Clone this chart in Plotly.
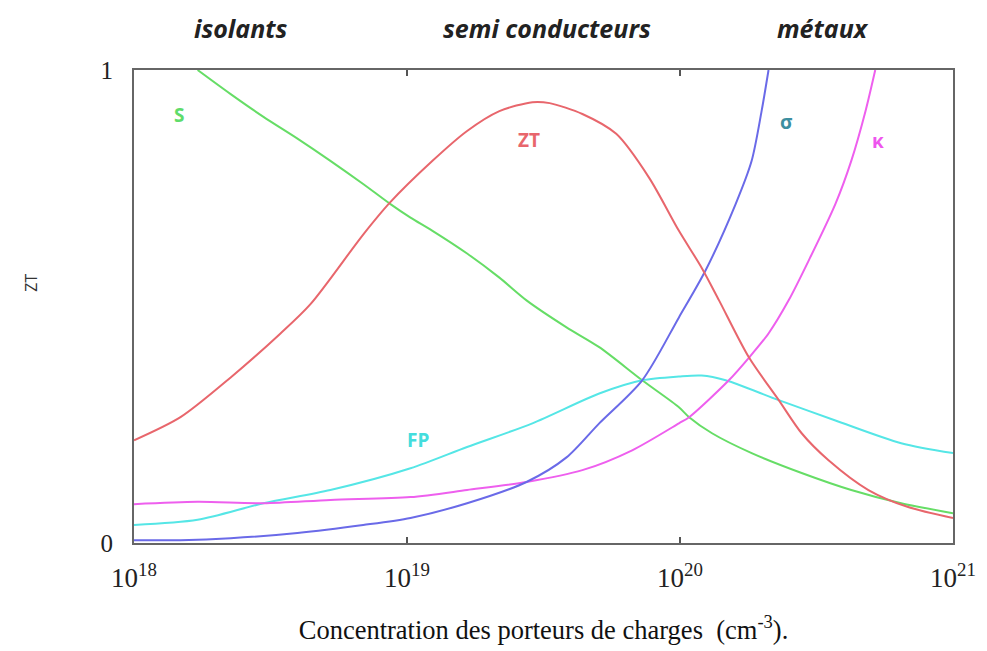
import math
import plotly.graph_objects as go

# ---- data ----
zt_x = [1.0e18, 1.48e18, 2.26e18, 3.44e18, 4.43e18, 6.91e18, 8.67e18, 1.24e19, 1.66e19,
        2.18e19, 2.88e19, 3.33e19, 4.39e19, 5.84e19, 7.71e19, 9.91e19, 1.20e20, 1.39e20,
        1.79e20, 2.30e20, 2.79e20, 3.50e20, 4.90e20, 6.85e20, 1.0e21]
zt_y = [0.217, 0.266, 0.35, 0.443, 0.505, 0.652, 0.72, 0.808, 0.871,
        0.913, 0.932, 0.930, 0.907, 0.865, 0.772, 0.66, 0.582, 0.513,
        0.392, 0.302, 0.232, 0.175, 0.112, 0.076, 0.053]

s_x = [1.71e18, 2.26e18, 2.98e18, 3.97e18, 5.24e18, 6.91e18, 8.67e18, 1.03e19, 1.24e19,
       1.66e19, 2.18e19, 2.74e19, 3.84e19, 5.06e19, 7.27e19, 9.91e19, 1.08e20, 1.31e20,
       1.83e20, 2.79e20, 4.24e20, 6.46e20, 1.0e21]
s_y = [1.0, 0.949, 0.901, 0.855, 0.808, 0.759, 0.717, 0.688, 0.66,
       0.612, 0.561, 0.513, 0.456, 0.414, 0.344, 0.287, 0.266, 0.232,
       0.19, 0.148, 0.112, 0.084, 0.063]

fp_x = [1.0e18, 1.71e18, 2.98e18, 5.24e18, 1.03e19, 1.66e19, 2.88e19, 5.06e19, 7.27e19,
        9.91e19, 1.20e20, 1.47e20, 2.30e20, 3.71e20, 6.46e20, 1.0e21]
fp_y = [0.038, 0.049, 0.084, 0.112, 0.158, 0.203, 0.253, 0.316, 0.344,
        0.352, 0.354, 0.344, 0.302, 0.259, 0.211, 0.19]

kappa_x = [1.0e18, 1.71e18, 2.98e18, 5.24e18, 1.03e19, 1.66e19, 2.74e19, 4.39e19, 6.68e19,
           9.91e19, 1.08e20, 1.51e20, 1.79e20, 2.11e20, 2.50e20, 2.96e20, 3.71e20, 4.24e20,
           4.78e20, 5.19e20]
kappa_y = [0.082, 0.087, 0.084, 0.091, 0.097, 0.112, 0.129, 0.154, 0.196,
           0.253, 0.266, 0.344, 0.392, 0.443, 0.513, 0.597, 0.717, 0.808,
           0.913, 1.0]

sigma_x = [1.0e18, 1.48e18, 2.26e18, 3.97e18, 6.91e18, 1.03e19, 1.66e19, 2.74e19, 3.84e19,
           5.06e19, 7.27e19, 9.91e19, 1.24e20, 1.60e20, 1.83e20, 1.99e20, 2.11e20]
sigma_y = [0.006, 0.006, 0.01, 0.021, 0.038, 0.053, 0.084, 0.129, 0.181,
           0.253, 0.344, 0.477, 0.576, 0.717, 0.808, 0.913, 1.0]

x_tickvals = [1e18, 1e19, 1e20, 1e21]
x_ticktext = ["10<sup>18</sup>", "10<sup>19</sup>", "10<sup>20</sup>", "10<sup>21</sup>"]
y_tickvals = [0, 1]
y_ticktext = ["0", "1"]

regions = ["isolants", "semi conducteurs", "métaux"]
region_x = [2.46e18, 3.27e19, 3.35e20]

curve_labels = ["S", "ZT", "FP", "σ", "κ"]
curve_label_x = [1.46e18, 2.8e19, 1.1e19, 2.45e20, 5.3e20]
curve_label_y = [0.905, 0.852, 0.218, 0.89, 0.85]

# ---- figure ----
fig = go.Figure()

series = [
    (s_x, s_y, "#66dd66"),
    (fp_x, fp_y, "#55e6e6"),
    (kappa_x, kappa_y, "#ee5fee"),
    (sigma_x, sigma_y, "#6a6ae8"),
    (zt_x, zt_y, "#e8666c"),
]
for xs, ys, col in series:
    fig.add_trace(go.Scatter(x=xs, y=ys, mode="lines",
                             line=dict(color=col, width=2, shape="spline", smoothing=0.8),
                             showlegend=False, hoverinfo="skip"))

label_font = "Open Sans"
label_colors = ["#5fdc6a", "#e8666c", "#44dddd", "#3d8fa0", "#ee55ee"]
for t, x, y, c in zip(curve_labels, curve_label_x, curve_label_y, label_colors):
    fig.add_annotation(x=math.log10(x), y=y, xref="x", yref="y", text="<b>" + t + "</b>",
                       showarrow=False, xanchor="center", yanchor="middle",
                       font=dict(family=label_font, size=19, color=c))

for t, x in zip(regions, region_x):
    fig.add_annotation(x=math.log10(x), y=1.0, xref="x", yref="paper", yshift=42,
                       text="<b><i>" + t + "</i></b>", xanchor="center", yanchor="middle",
                       showarrow=False, font=dict(family=label_font, size=25, color="#222222"))

fig.add_annotation(x=0, y=0.55, xref="paper", yref="paper", xshift=-103, text="ZT",
                   textangle=-90, xanchor="center", yanchor="middle",
                   showarrow=False, font=dict(family="Open Sans", size=16, color="#333333"))

fig.update_xaxes(type="log", range=[18, 21], tickvals=x_tickvals, ticktext=x_ticktext,
                 showgrid=False, zeroline=False, showline=True, mirror="ticks",
                 linecolor="#666666", linewidth=2, ticks="inside", ticklen=6, tickwidth=2,
                 tickcolor="#555555", ticklabelstandoff=10,
                 tickfont=dict(family="Liberation Serif", size=27, color="#222222"),
                 title=dict(text="Concentration des porteurs de charges  (cm<sup>-3</sup>).",
                            font=dict(family="Liberation Serif", size=26.5, color="#111111"),
                            standoff=28))
fig.update_yaxes(range=[0, 1], tickvals=y_tickvals, ticktext=y_ticktext,
                 showgrid=False, zeroline=False, showline=True, mirror=True,
                 linecolor="#666666", linewidth=2, ticks="", ticklabelstandoff=14,
                 tickfont=dict(family="Liberation Serif", size=25, color="#222222"))

fig.update_layout(width=980, height=644, margin=dict(l=126, r=32, t=62, b=108),
                  plot_bgcolor="white", paper_bgcolor="white")

fig.write_html("out.html")
